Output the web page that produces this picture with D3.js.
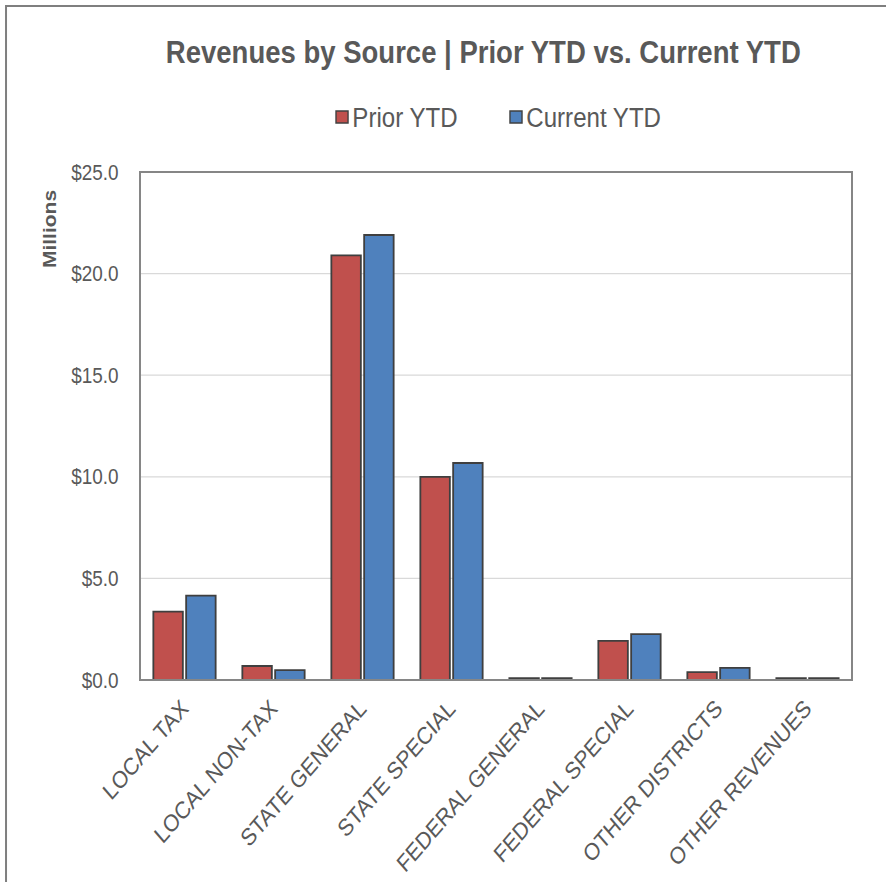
<!DOCTYPE html>
<html>
<head>
<meta charset="utf-8">
<script src="https://cdn.jsdelivr.net/npm/d3@7"></script>
<style>
html,body{margin:0;padding:0;background:#fff;}
svg{display:block;}
text{font-family:"Liberation Sans",Arial,sans-serif;fill:#595959;}
</style>
</head>
<body>
<script>
const categories = ["LOCAL TAX","LOCAL NON-TAX","STATE GENERAL","STATE SPECIAL","FEDERAL GENERAL","FEDERAL SPECIAL","OTHER DISTRICTS","OTHER REVENUES"];
const seriesNames = ["Prior YTD","Current YTD"];
const priorYTD = [3.36, 0.69, 20.9, 10.0, 0.09, 1.93, 0.39, 0.09];
const currentYTD = [4.15, 0.49, 21.9, 10.68, 0.09, 2.26, 0.6, 0.09];
const yTicks = [0, 5, 10, 15, 20, 25];
const colors = ["#C0504D", "#4F81BD"];

(function () {
const W = 886, H = 882, SX = 0.86;
const svg = d3.select("body").append("svg").attr("width", W).attr("height", H);
svg.append("rect").attr("width", W).attr("height", H).attr("fill", "#fff");
const g = svg.append("g").attr("transform", `scale(${SX},1)`);

// outer frame
g.append("rect").attr("x", 7).attr("y", 6).attr("width", 1100).attr("height", 1000)
  .attr("fill", "none").attr("stroke", "#7f7f7f").attr("stroke-width", 2)
  .attr("vector-effect", "non-scaling-stroke");

const pL = 140 / SX, pR = 852 / SX, pT = 172, pB = 680;

const x0 = d3.scaleBand().domain(categories).range([pL, pR]).paddingInner(0.3).paddingOuter(0.15);
const x1 = d3.scaleBand().domain(seriesNames).range([0, x0.bandwidth()]).paddingInner(0.1);
const y = d3.scaleLinear().domain([0, 25]).range([pB, pT]);

// gridlines
g.append("g").selectAll("line").data(yTicks.filter(d => d > 0 && d < 25)).join("line")
  .attr("x1", pL).attr("x2", pR).attr("y1", d => y(d)).attr("y2", d => y(d))
  .attr("stroke", "#d9d9d9").attr("stroke-width", 1.2).attr("vector-effect", "non-scaling-stroke");

// bars
const table = categories.map((c, i) => ({cat: c, vals: [priorYTD[i], currentYTD[i]]}));
const grp = g.append("g").selectAll("g").data(table).join("g")
  .attr("transform", d => `translate(${x0(d.cat)},0)`);
grp.selectAll("rect").data(d => d.vals.map((v, j) => ({s: seriesNames[j], v, j}))).join("rect")
  .attr("x", d => x1(d.s)).attr("width", x1.bandwidth())
  .attr("y", d => y(d.v)).attr("height", d => y(0) - y(d.v))
  .attr("fill", d => colors[d.j]).attr("stroke", "#3f3f3f").attr("stroke-width", 1.8)
  .attr("vector-effect", "non-scaling-stroke");

// plot border
g.append("rect").attr("x", pL).attr("y", pT).attr("width", pR - pL).attr("height", pB - pT)
  .attr("fill", "none").attr("stroke", "#868686").attr("stroke-width", 2)
  .attr("vector-effect", "non-scaling-stroke");

// y axis labels
const yAxis = d3.axisLeft(y).tickValues(yTicks).tickFormat(d => "$" + d3.format(".1f")(d)).tickSize(0).tickPadding(25);
const ya = g.append("g").attr("transform", `translate(${pL},0)`).call(yAxis);
ya.select(".domain").remove();
ya.selectAll("text").attr("font-size", 22).attr("fill", "#595959").style("font-family", "Liberation Sans, Arial, sans-serif");

// x axis labels
const xAxis = d3.axisBottom(x0).tickSize(0).tickPadding(0);
const xa = g.append("g").attr("transform", `translate(0,${pB})`).call(xAxis);
xa.select(".domain").remove();
xa.selectAll("text")
  .attr("font-size", 24).attr("fill", "#595959").style("font-family", "Liberation Sans, Arial, sans-serif")
  .attr("text-anchor", "end").attr("dy", null).attr("y", 0)
  .attr("transform", "translate(6,30) rotate(-45)");

// y axis title
g.append("text").attr("transform", `translate(${58},229) rotate(-90)`)
  .attr("text-anchor", "middle").attr("dy", "0.35em")
  .attr("font-size", 21).attr("font-weight", "bold").text("Millions");

// title
g.append("text").attr("x", 562).attr("y", 63).attr("text-anchor", "middle")
  .attr("font-size", 32).attr("font-weight", "bold").text("Revenues by Source | Prior YTD vs. Current YTD");

// legend
const legX = [390.7, 593];
const leg = g.append("g").selectAll("g").data(seriesNames).join("g")
  .attr("transform", (d, i) => `translate(${legX[i]},117)`);
leg.append("rect").attr("x", 0).attr("y", -6).attr("width", 14).attr("height", 12)
  .attr("fill", (d, i) => colors[i]).attr("stroke", "#404040").attr("stroke-width", 1.4)
  .attr("vector-effect", "non-scaling-stroke");
leg.append("text").attr("x", 19).attr("y", 0).attr("dy", "0.35em").attr("font-size", 28).text(d => d);
})();
</script>
</body>
</html>
